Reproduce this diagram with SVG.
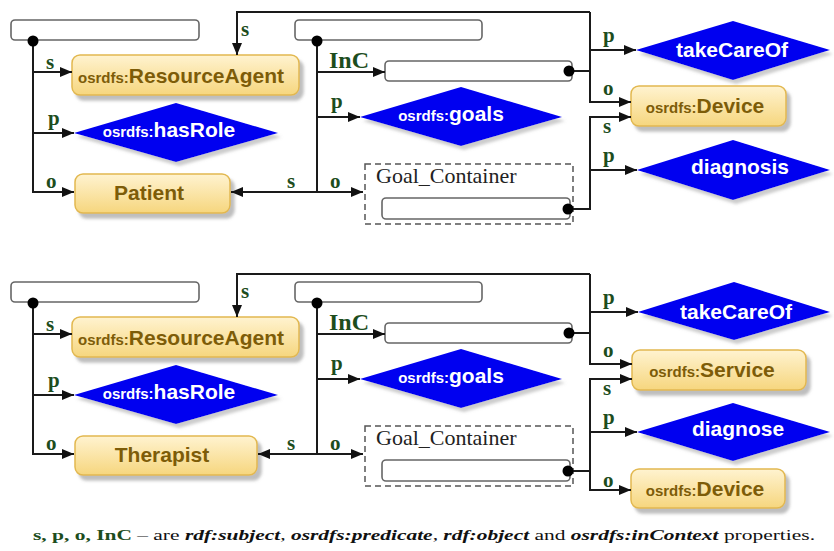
<svg xmlns="http://www.w3.org/2000/svg" width="834" height="551" viewBox="0 0 834 551">
<defs>
<linearGradient id="yg" x1="0" y1="0" x2="0" y2="1">
<stop offset="0" stop-color="#fff3d0"/>
<stop offset="1" stop-color="#f6d67e"/>
</linearGradient>
<filter id="sh" x="-10%" y="-20%" width="130%" height="160%">
<feDropShadow dx="4" dy="5" stdDeviation="1.5" flood-color="#888" flood-opacity="0.55"/>
</filter>
<filter id="shd" x="-10%" y="-20%" width="130%" height="160%">
<feDropShadow dx="3" dy="4" stdDeviation="1.5" flood-color="#999" flood-opacity="0.5"/>
</filter>
<marker id="ah" markerUnits="userSpaceOnUse" markerWidth="12" markerHeight="12" refX="12" refY="6" orient="auto">
<path d="M0,1 L12,6 L0,11 z" fill="#111"/>
</marker>
</defs>
<style>
.stmt{fill:#fff;stroke:#666;stroke-width:1.6}
.cls{fill:url(#yg);stroke:#e2b850;stroke-width:1.5;filter:url(#sh)}
.dia{fill:#0000f0;filter:url(#shd)}
.ct{font-family:"Liberation Sans",Arial,sans-serif;font-weight:bold;font-size:21px;fill:#7d5c08;text-anchor:middle}
.dt{font-family:"Liberation Sans",Arial,sans-serif;font-weight:bold;font-size:21px;fill:#fff;text-anchor:middle}
.pre{font-size:15px}
.gc{fill:none;stroke:#555;stroke-width:1.5;stroke-dasharray:6 4}
.gct{font-family:"Liberation Serif","Times New Roman",serif;font-size:22px;fill:#222}
.ln{fill:none;stroke:#1a1a1a;stroke-width:2}
.ar{marker-end:url(#ah)}
.lb{font-family:"Liberation Serif","Times New Roman",serif;font-weight:bold;font-size:21px;fill:#1d4d1d}
.lbi{font-size:24px}
.cap{font-family:"Liberation Serif","Times New Roman",serif;font-size:14.5px;fill:#111}
</style>

<!-- ===== Top diagram nodes ===== -->
<g id="stmt1"><rect class="stmt" x="11" y="20" width="188" height="20" rx="4"/></g>
<g id="resourceAgent1"><rect class="cls" x="72" y="55" width="227" height="40" rx="8"/><text class="ct" x="181" y="83"><tspan class="pre">osrdfs:</tspan>ResourceAgent</text></g>
<g id="hasRole1"><polygon class="dia" points="74,133 176,103 278,133 176,162"/><text class="dt" x="169" y="137"><tspan class="pre">osrdfs:</tspan>hasRole</text></g>
<g id="patient"><rect class="cls" x="75" y="174" width="155" height="39" rx="8"/><text class="ct" x="149" y="200">Patient</text></g>
<g id="stmt2"><rect class="stmt" x="295" y="20" width="187" height="20" rx="4"/></g>
<g id="context1"><rect class="stmt" x="385" y="61" width="187" height="20" rx="4"/></g>
<g id="goals1"><polygon class="dia" points="360,117 461,87 562,117 461,146"/><text class="dt" x="451" y="121"><tspan class="pre">osrdfs:</tspan>goals</text></g>
<g id="goalContainer1"><rect class="gc" x="365" y="164" width="208" height="60"/><text class="gct" x="376" y="183">Goal_Container</text><rect class="stmt" x="382" y="198" width="188" height="21" rx="4"/></g>
<g id="takeCareOf1"><polygon class="dia" points="636,50 733,21 830,50 733,80"/><text class="dt" x="732" y="57">takeCareOf</text></g>
<g id="device1"><rect class="cls" x="631" y="86" width="155" height="40" rx="8"/><text class="ct" x="705" y="113"><tspan class="pre">osrdfs:</tspan>Device</text></g>
<g id="diagnosis1"><polygon class="dia" points="637,170 733,140 830,170 733,200"/><text class="dt" x="740" y="174">diagnosis</text></g>

<!-- ===== Bottom diagram nodes ===== -->
<g id="stmt3"><rect class="stmt" x="11" y="282" width="188" height="20" rx="4"/></g>
<g id="resourceAgent2"><rect class="cls" x="72" y="317" width="227" height="40" rx="8"/><text class="ct" x="181" y="345"><tspan class="pre">osrdfs:</tspan>ResourceAgent</text></g>
<g id="hasRole2"><polygon class="dia" points="74,395 176,365 278,395 176,424"/><text class="dt" x="169" y="399"><tspan class="pre">osrdfs:</tspan>hasRole</text></g>
<g id="therapist"><rect class="cls" x="75" y="436" width="182" height="39" rx="8"/><text class="ct" x="162" y="462">Therapist</text></g>
<g id="stmt4"><rect class="stmt" x="295" y="282" width="187" height="20" rx="4"/></g>
<g id="context2"><rect class="stmt" x="385" y="323" width="187" height="20" rx="4"/></g>
<g id="goals2"><polygon class="dia" points="360,379 461,349 562,379 461,408"/><text class="dt" x="451" y="383"><tspan class="pre">osrdfs:</tspan>goals</text></g>
<g id="goalContainer2"><rect class="gc" x="365" y="426" width="208" height="60"/><text class="gct" x="376" y="445">Goal_Container</text><rect class="stmt" x="382" y="460" width="188" height="21" rx="4"/></g>
<g id="takeCareOf2"><polygon class="dia" points="638,312 734,282 830,312 734,340"/><text class="dt" x="736" y="319">takeCareOf</text></g>
<g id="service"><rect class="cls" x="632" y="350" width="174" height="40" rx="8"/><text class="ct" x="712" y="377"><tspan class="pre">osrdfs:</tspan>Service</text></g>
<g id="diagnose"><polygon class="dia" points="637,432 733,403 830,432 733,461"/><text class="dt" x="738" y="436">diagnose</text></g>
<g id="device2"><rect class="cls" x="631" y="469" width="154" height="39" rx="8"/><text class="ct" x="705" y="496"><tspan class="pre">osrdfs:</tspan>Device</text></g>

<!-- ===== Connectors ===== -->
<g id="connectors">
<!-- top -->
<path class="ln ar" d="M33,41 V192 H74"/>
<path class="ln ar" d="M33,72 H72"/>
<path class="ln ar" d="M33,133 H74"/>
<path class="ln ar" d="M317,41 V192 H363"/>
<path class="ln ar" d="M317,72 H385"/>
<path class="ln ar" d="M317,117 H360"/>
<path class="ln ar" d="M317,192 H231"/>
<path class="ln" d="M569,71 H590"/>
<path class="ln ar" d="M590,12 V102 H631"/>
<path class="ln ar" d="M590,12 H237 V55"/>
<path class="ln ar" d="M590,50 H636"/>
<path class="ln ar" d="M569,209 H590 V117 H631"/>
<path class="ln ar" d="M590,170 H637"/>
<circle cx="33" cy="41" r="5.5" fill="#000"/>
<circle cx="317" cy="41" r="5.5" fill="#000"/>
<circle cx="569" cy="71" r="5.5" fill="#000"/>
<circle cx="568" cy="209" r="5.5" fill="#000"/>
<text class="lb" x="46" y="69">s</text>
<text class="lb" x="48" y="125">p</text>
<text class="lb" x="46" y="188">o</text>
<text class="lb" x="241" y="36">s</text>
<text class="lb lbi" x="329" y="68">InC</text>
<text class="lb" x="331" y="108">p</text>
<text class="lb" x="330" y="188">o</text>
<text class="lb" x="287" y="188">s</text>
<text class="lb" x="603" y="42">p</text>
<text class="lb" x="603" y="95">o</text>
<text class="lb" x="603" y="133">s</text>
<text class="lb" x="603" y="162">p</text>
<!-- bottom -->
<path class="ln ar" d="M33,303 V454 H74"/>
<path class="ln ar" d="M33,334 H72"/>
<path class="ln ar" d="M33,395 H74"/>
<path class="ln ar" d="M317,303 V454 H363"/>
<path class="ln ar" d="M317,334 H385"/>
<path class="ln ar" d="M317,379 H360"/>
<path class="ln ar" d="M317,454 H258"/>
<path class="ln" d="M569,333 H590"/>
<path class="ln ar" d="M590,274 V364 H632"/>
<path class="ln ar" d="M590,274 H237 V317"/>
<path class="ln ar" d="M590,312 H638"/>
<path class="ln ar" d="M569,471 H590 V379 H632"/>
<path class="ln ar" d="M590,432 H637"/>
<path class="ln ar" d="M590,471 V490 H631"/>
<circle cx="33" cy="303" r="5.5" fill="#000"/>
<circle cx="317" cy="303" r="5.5" fill="#000"/>
<circle cx="569" cy="333" r="5.5" fill="#000"/>
<circle cx="568" cy="471" r="5.5" fill="#000"/>
<text class="lb" x="46" y="331">s</text>
<text class="lb" x="48" y="387">p</text>
<text class="lb" x="46" y="450">o</text>
<text class="lb" x="241" y="298">s</text>
<text class="lb lbi" x="329" y="330">InC</text>
<text class="lb" x="331" y="370">p</text>
<text class="lb" x="330" y="450">o</text>
<text class="lb" x="287" y="450">s</text>
<text class="lb" x="603" y="304">p</text>
<text class="lb" x="603" y="357">o</text>
<text class="lb" x="603" y="395">s</text>
<text class="lb" x="603" y="424">p</text>
<text class="lb" x="603" y="487">o</text>
</g>

<text class="cap" transform="translate(33,540) scale(1.48,1)" x="0" y="0"><tspan font-weight="bold" fill="#1d4d1d">s, p, o, InC</tspan> – are <tspan font-weight="bold" font-style="italic">rdf:subject</tspan>, <tspan font-weight="bold" font-style="italic">osrdfs:predicate</tspan>, <tspan font-weight="bold" font-style="italic">rdf:object</tspan> and <tspan font-weight="bold" font-style="italic">osrdfs:inContext</tspan> properties.</text>
</svg>
